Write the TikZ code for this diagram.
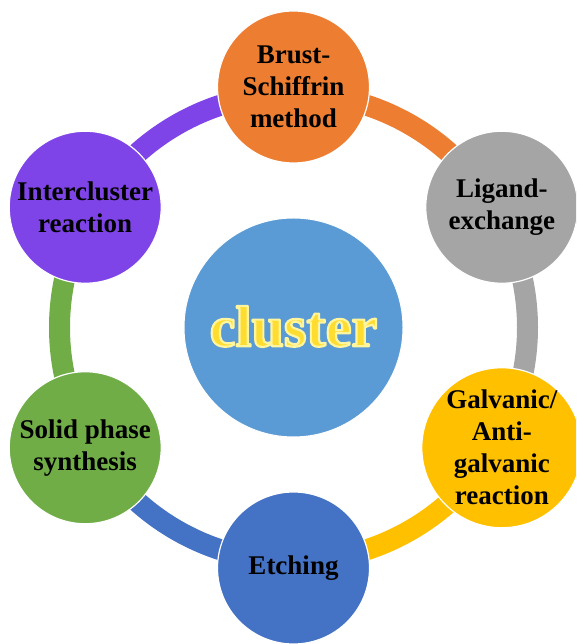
\documentclass[tikz,border=0pt]{standalone}
\usepackage{fontspec}
\setmainfont{Liberation Serif}
\usetikzlibrary{calc}
\definecolor{cOrange}{HTML}{ED7D31}
\definecolor{cGray}{HTML}{A5A5A5}
\definecolor{cYellow}{HTML}{FFC000}
\definecolor{cBlue}{HTML}{4472C4}
\definecolor{cGreen}{HTML}{70AD47}
\definecolor{cPurple}{HTML}{7F44E8}
\definecolor{cCenter}{HTML}{5B9BD5}
\definecolor{cText}{HTML}{FFDC30}
\newcommand{\glowon}{\special{pdf:literal q 2 Tr 2.2 w 1 0.96 0.62 RG 1 J 1 j}}
\newcommand{\glowoff}{\special{pdf:literal Q}}
\tikzset{
  stepcircle/.style={circle, minimum size=152pt, inner sep=0pt, draw=white, line width=1.2pt, align=center, text=black,
    font=\fontsize{27}{32}\selectfont\bfseries},
  ringarc/.style={line width=21pt},
  centertext/.style={text=cText, font=\fontsize{58}{60}\selectfont\bfseries}
}
\begin{document}
\begin{tikzpicture}[x=1pt,y=1pt]
\useasboundingbox (0,0) rectangle (576,644);
\clip (0,0) rectangle (576,644);
\coordinate (O) at (293.5,316.5);
% ring arcs
\draw[ringarc, cOrange] ($(O)+(90:234)$) arc[start angle=90, end angle=30, radius=234];
\draw[ringarc, cGray] ($(O)+(30:234)$) arc[start angle=30, end angle=-30, radius=234];
\draw[ringarc, cYellow] ($(O)+(-30:234)$) arc[start angle=-30, end angle=-90, radius=234];
\draw[ringarc, cBlue] ($(O)+(-90:234)$) arc[start angle=-90, end angle=-150, radius=234];
\draw[ringarc, cGreen] ($(O)+(-150:234)$) arc[start angle=-150, end angle=-210, radius=234];
\draw[ringarc, cPurple] ($(O)+(150:234)$) arc[start angle=150, end angle=90, radius=234];
% outer nodes
\node[stepcircle, fill=cOrange] (brust) at ($(O)+(90:240.5)$) {Brust-\\Schiffrin\\method};
\node[stepcircle, fill=cGray] (ligand) at ($(O)+(30:240.5)$) {Ligand-\\exchange};
\node[stepcircle, fill=cYellow] (galv) at ($(O)+(-30:240.5)$) {Galvanic/\\Anti-\\galvanic\\reaction};
\node[stepcircle, fill=cBlue] (etch) at ($(O)+(-90:240.5)$) {Etching};
\node[stepcircle, fill=cGreen] (solid) at ($(O)+(-150:240.5)$) {Solid phase\\synthesis};
\node[stepcircle, fill=cPurple] (inter) at ($(O)+(150:240.5)$) {Intercluster\\reaction};
% center
\node[circle, minimum size=219pt, inner sep=0pt, fill=cCenter, draw=white, line width=1pt] (center) at (O) {};
\node[centertext] (ctext) at ($(O)+(0,1)$) {\glowon cluster\glowoff};
\end{tikzpicture}
\end{document}
